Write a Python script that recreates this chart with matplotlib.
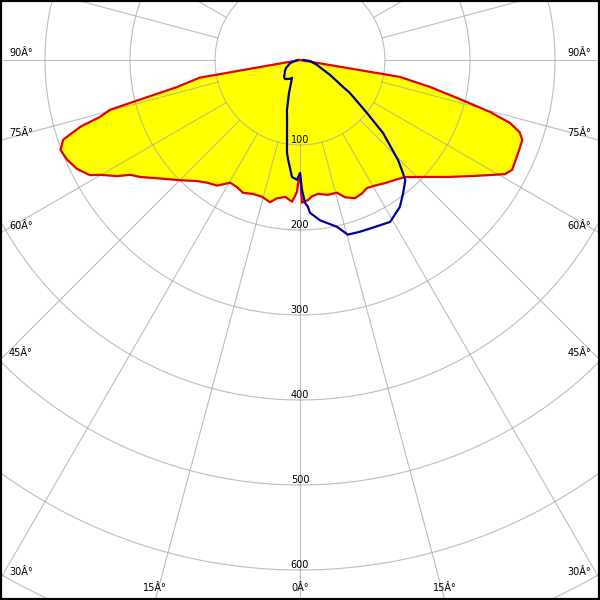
import numpy as np
import matplotlib
matplotlib.use("Agg")
import matplotlib.pyplot as plt
from matplotlib.patches import Rectangle

# plane 1 (red outline, yellow fill): angle from nadir in degrees, intensity
red_ang = [-90, -80, -77.6, -75.9, -75.3, -74.1, -73.1, -71.4, -69.4, -66.8,
           -64, -61.3, -60.1, -57.6, -55.9, -53.8, -51.8, -49, -45, -40.4,
           -37.1, -33.4, -29.6, -26.4, -23.2, -19.3, -15.5, -11.9, -9.5, -6.2,
           -3.2, -1.3, -0.9, 0, 0.8, 3.3, 5, 7.7, 11.7, 15.5,
           18.2, 21.7, 25, 27.6, 30.8, 34.6, 38.4, 41.9, 47.6, 51.7,
           56.5, 59.5, 60.9, 62.6, 64.4, 66.9, 70.2, 71.8, 73.3, 74.7,
           76.2, 78.3, 80.4, 90]
red_cd = [0, 120, 148, 203, 231, 245, 270, 294, 301, 298,
          292, 282, 271, 255, 241, 233, 224, 213, 200, 187,
          181, 177, 166, 167, 170, 167, 167, 171, 165, 162,
          167, 155, 145, 133, 168, 165, 161, 159, 162, 162,
          170, 175, 173, 170, 172, 176, 180, 185, 204, 222,
          247, 266, 276, 281, 280, 279, 278, 272, 258, 232,
          195, 156, 119, 0]

# plane 2 (blue outline)
blue_ang = [-90, -73, -60, -56, -43, -38, -28, -24, -21.4, -18.4,
            -14.6, -12.2, -8, -6.8, -3.9, -1.4, 0, 0.9, 2, 3.1,
            3.7, 7.1, 12.5, 15.3, 19.2, 23.5, 29.1, 34.2, 37.8, 41.2,
            42.3, 44.4, 48.7, 51.7, 56.6, 57.9, 63.4, 73.6, 84.3, 90]
blue_cd = [3, 12, 19, 21, 27.5, 28.5, 25, 23, 29, 41,
           61, 72, 110, 118, 138, 141, 133, 153, 168, 173,
           180, 190, 201, 213, 214, 215, 218, 209, 198, 188,
           180, 165, 130, 100, 70, 60, 40, 21, 12, 4]

rings = [100, 200, 300, 400, 500, 600, 700, 800]
ring_labels = ["100", "200", "300", "400", "500", "600"]
side_angles = [90, 75, 60, 45, 30]
bottom_angles = [-15, 0, 15]

# layout (pixels)
W = 600
cx, cy = 300, 60          # pole position, from top-left
scale = 0.85              # px per unit
rmax = 800
R = rmax * scale

grid_kw = dict(color="#a8a8a8", lw=0.8, alpha=0.75, zorder=2)

fig = plt.figure(figsize=(6, 6), dpi=100)
ax = fig.add_axes([(cx - R) / W, (W - cy - R) / W, 2 * R / W, 2 * R / W],
                  projection="polar")
ax.set_theta_zero_location("S")
ax.set_theta_direction(1)
ax.set_ylim(0, rmax)
ax.axis("off")

ax.fill(np.radians(red_ang), red_cd, color="#ffff00", lw=0, zorder=1)

th = np.linspace(0, 2 * np.pi, 1441)
for r in rings:
    ax.plot(th, np.full_like(th, r), **grid_kw)
for a in np.arange(0, 360, 15):
    ax.plot([np.radians(a)] * 2, [rings[0], rings[-1]], **grid_kw)

for r, lab in zip(rings, ring_labels):
    ax.text(0, r, lab, ha="center", va="bottom", fontsize=7, zorder=3)

ax.plot(np.radians(red_ang), red_cd, color="#e00000", lw=1.6, zorder=4)
ax.plot(np.radians(blue_ang), blue_cd, color="#0000a0", lw=1.6, zorder=5)

# angle labels where the spokes leave the picture
for a in side_angles:
    y = cy + cx / np.tan(np.radians(a)) - 7.5
    fig.text(9 / W, 1 - y / W, f"{a}Â°", ha="left", va="center", fontsize=7)
    fig.text((W - 9) / W, 1 - y / W, f"{a}Â°", ha="right", va="center", fontsize=7)
for a in bottom_angles:
    x = cx + (W - cy) * np.tan(np.radians(a))
    fig.text(x / W, 1 - 588 / W, f"{abs(a)}Â°", ha="center", va="center", fontsize=7)

fig.add_artist(Rectangle((0, 0), 1, 1, transform=fig.transFigure,
                         fill=False, ec="black", lw=3, zorder=10))

fig.savefig("out.png", dpi=100)
